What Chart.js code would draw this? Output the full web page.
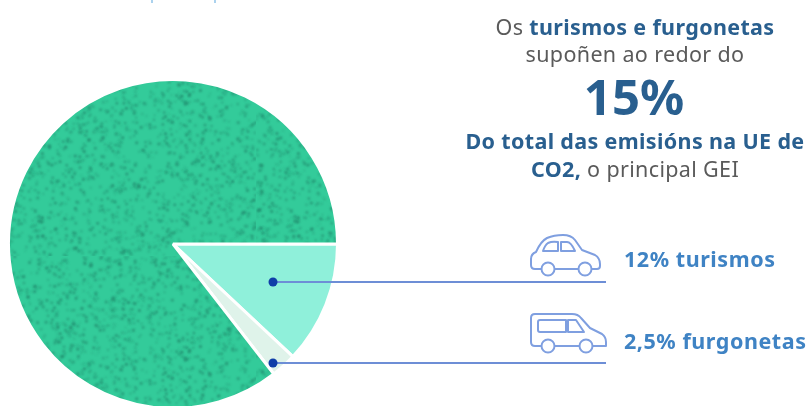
<!DOCTYPE html>
<html><head><meta charset="utf-8">
<style>html,body{margin:0;padding:0;background:#fff;overflow:hidden}canvas{display:block}</style>
<script src="https://cdn.jsdelivr.net/npm/chart.js@4"></script>
</head><body><div style="width:808px;height:406px"><canvas id="c" width="808" height="406"></canvas></div>
<script>
const categories = ['Turismos', 'Furgonetas', 'Resto das emisións'];
const shares = [12, 2.5, 85.5];
const headline = '15%';
const labelCars = '12% turismos';
const labelVans = '2,5% furgonetas';

const FONT = '"Noto Sans"';
const DARK = '#295f8f', GREY = '#5a5a5a', BLUE = '#3f83c4', LINE = '#6d8ed6', DOT = '#0f3ea8';

function speckle() {
  const s = 256, p = document.createElement('canvas');
  p.width = p.height = s;
  const g = p.getContext('2d');
  g.fillStyle = '#33cb9a'; g.fillRect(0, 0, s, s);
  g.filter = 'blur(0.9px)';
  let seed = 12345;
  const next = () => (seed = (seed * 1103515245 + 12345) & 0x7fffffff) / 0x7fffffff;
  for (let i = 0; i < 2400; i++) {
    g.fillStyle = 'rgba(30,125,100,' + (0.3 + next() * 0.4) + ')';
    g.beginPath(); g.arc(next() * s, next() * s, 0.7 + next() * 0.9, 0, 7); g.fill();
  }
  return g.createPattern(p, 'repeat');
}

function lineRuns(ctx, runs, cx, y) {
  ctx.letterSpacing = '0.35px';
  let w = 0;
  runs.forEach(r => { ctx.font = r[2] + ' 21.5px ' + FONT; w += ctx.measureText(r[0]).width; });
  let x = cx - w / 2;
  runs.forEach(r => {
    ctx.font = r[2] + ' 21.5px ' + FONT; ctx.fillStyle = r[1];
    ctx.fillText(r[0], x, y); x += ctx.measureText(r[0]).width;
  });
  ctx.letterSpacing = '0px';
}

const overlay = {
  id: 'overlay',
  afterDraw(chart) {
    const ctx = chart.ctx;
    ctx.save();
    ctx.textBaseline = 'alphabetic'; ctx.textAlign = 'left';
    // cropped marks at the top edge
    ctx.strokeStyle = '#8fc3e8'; ctx.lineWidth = 1.5;
    [152, 215].forEach(x => { ctx.beginPath(); ctx.moveTo(x, 0); ctx.lineTo(x, 3); ctx.stroke(); });

    lineRuns(ctx, [['Os ', GREY, '400'], ['turismos e furgonetas', DARK, '700']], 635, 35);
    lineRuns(ctx, [['supoñen ao redor do', GREY, '400']], 635, 62);
    ctx.font = '700 49px ' + FONT; ctx.fillStyle = DARK; ctx.textAlign = 'center';
    ctx.fillText(headline, 634, 115); ctx.textAlign = 'left';
    lineRuns(ctx, [['Do total das emisións na UE de', DARK, '700']], 635, 149);
    lineRuns(ctx, [['CO2,', DARK, '700'], [' o principal GEI', GREY, '400']], 635, 177);

    ctx.font = '700 21.5px ' + FONT; ctx.fillStyle = BLUE; ctx.letterSpacing = '0.55px';
    ctx.fillText(labelCars, 624, 267);
    ctx.fillText(labelVans, 624, 349);
    ctx.letterSpacing = '0px';

    // leader lines and dots
    ctx.strokeStyle = LINE; ctx.lineWidth = 2;
    [282, 363].forEach(y => {
      ctx.beginPath(); ctx.moveTo(273, y); ctx.lineTo(606, y); ctx.stroke();
      ctx.fillStyle = DOT; ctx.beginPath(); ctx.arc(273, y, 4.5, 0, 7); ctx.fill();
    });

    // car icon
    ctx.strokeStyle = '#7f9fe0'; ctx.lineWidth = 2; ctx.lineJoin = 'round';
    ctx.stroke(new Path2D('M541 269H535Q531 269 531 265V259Q531 254 536 252Q541 241 547 238Q554 235 563 235Q571 235 575 240L582 250L595 255Q600 258 600 264V266Q600 269 597 269H592M555 269H578'));
    ctx.stroke(new Path2D('M543 251Q545 245 548 243Q552 241 558 242V251ZM561 242H567Q571 242 575 251H561Z'));
    [[548, 269], [585, 269]].forEach(c => { ctx.beginPath(); ctx.arc(c[0], c[1], 6.5, 0, 7); ctx.stroke(); });

    // van icon
    ctx.stroke(new Path2D('M541 346H535Q531 346 531 342V318Q531 314 535 314H572Q578 314 581 318L590 328L602 334Q606 337 606 342V346H593M555 346H579'));
    ctx.stroke(new Path2D('M538 322Q538 320 540 320H566V332H540Q538 332 538 330ZM568 320H576L584 332H568Z'));
    [[548, 346], [586, 346]].forEach(c => { ctx.beginPath(); ctx.arc(c[0], c[1], 6.5, 0, 7); ctx.stroke(); });
    ctx.restore();
  }
};

new Chart(document.getElementById('c'), {
  type: 'pie',
  data: {
    labels: categories,
    datasets: [{
      data: shares,
      backgroundColor: ['#8ff0da', '#dff3ea', speckle()],
      borderColor: '#ffffff',
      borderWidth: 3,
      borderAlign: 'center',
      hoverOffset: 0,
      clip: false
    }]
  },
  options: {
    responsive: false,
    animation: false,
    rotation: 90,
    radius: 164.5,
    layout: { padding: { left: 0, right: 462, top: 82, bottom: 0 } },
    plugins: { legend: { display: false }, tooltip: { enabled: false }, title: { display: false } }
  },
  plugins: [overlay]
});
</script></body></html>
